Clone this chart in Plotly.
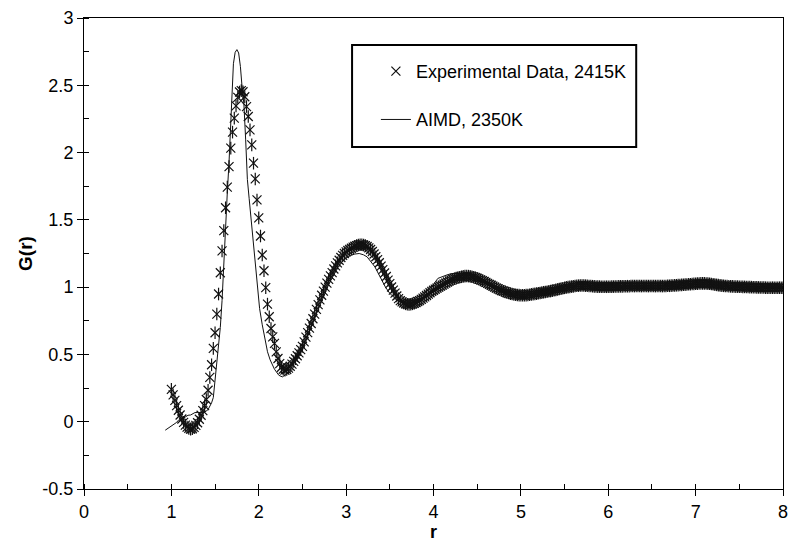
import numpy as np
import plotly.graph_objects as go

# Experimental G(r), sampled on a uniform r grid (step 0.02, from 1.00 to 8.00)
R_START = 1.00
R_STEP = 0.02
exp_g = [
    0.240, 0.200, 0.158, 0.120, 0.085, 0.050, 0.020, -0.005, -0.025, -0.040,
    -0.050, -0.055, -0.052, -0.042, -0.027, -0.008, 0.018, 0.048, 0.082, 0.120,
    0.165, 0.234, 0.329, 0.423, 0.545, 0.661, 0.800, 0.949, 1.107, 1.269,
    1.420, 1.590, 1.743, 1.896, 2.033, 2.152, 2.256, 2.347, 2.410, 2.450,
    2.460, 2.452, 2.415, 2.342, 2.268, 2.169, 2.057, 1.921, 1.804, 1.648,
    1.515, 1.380, 1.239, 1.122, 0.996, 0.874, 0.780, 0.693, 0.631, 0.582,
    0.519, 0.470, 0.432, 0.405, 0.390, 0.383, 0.388, 0.398, 0.412, 0.428,
    0.448, 0.468, 0.490, 0.512, 0.536, 0.560, 0.593, 0.628, 0.662, 0.695,
    0.730, 0.765, 0.800, 0.835, 0.870, 0.905, 0.940, 0.970, 1.000, 1.030,
    1.058, 1.084, 1.108, 1.135, 1.158, 1.180, 1.200, 1.220, 1.236, 1.250,
    1.262, 1.272, 1.281, 1.289, 1.297, 1.304, 1.309, 1.313, 1.315, 1.315,
    1.313, 1.309, 1.302, 1.292, 1.280, 1.265, 1.246, 1.226, 1.205, 1.181,
    1.156, 1.130, 1.105, 1.079, 1.052, 1.026, 1.001, 0.978, 0.955, 0.934,
    0.915, 0.900, 0.890, 0.882, 0.876, 0.873, 0.872, 0.873, 0.876, 0.880,
    0.886, 0.893, 0.900, 0.909, 0.918, 0.928, 0.938, 0.948, 0.958, 0.968,
    0.977, 0.985, 0.993, 1.000, 1.008, 1.015, 1.022, 1.030, 1.038, 1.046,
    1.052, 1.058, 1.063, 1.067, 1.071, 1.074, 1.077, 1.080, 1.082, 1.083,
    1.082, 1.080, 1.077, 1.074, 1.070, 1.065, 1.060, 1.054, 1.048, 1.042,
    1.035, 1.028, 1.021, 1.014, 1.007, 1.000, 0.993, 0.987, 0.981, 0.975,
    0.970, 0.965, 0.960, 0.956, 0.952, 0.949, 0.946, 0.944, 0.942, 0.941,
    0.940, 0.940, 0.940, 0.941, 0.942, 0.944, 0.946, 0.948, 0.950, 0.952,
    0.955, 0.957, 0.959, 0.962, 0.964, 0.966, 0.969, 0.971, 0.974, 0.977,
    0.980, 0.983, 0.986, 0.989, 0.992, 0.995, 0.998, 1.000, 1.002, 1.004,
    1.006, 1.008, 1.010, 1.011, 1.012, 1.012, 1.012, 1.011, 1.010, 1.009,
    1.008, 1.007, 1.006, 1.005, 1.004, 1.004, 1.003, 1.003, 1.003, 1.003,
    1.003, 1.003, 1.004, 1.004, 1.005, 1.005, 1.006, 1.006, 1.006, 1.007,
    1.007, 1.007, 1.007, 1.008, 1.008, 1.008, 1.008, 1.008, 1.008, 1.008,
    1.008, 1.008, 1.008, 1.008, 1.008, 1.008, 1.008, 1.008, 1.008, 1.008,
    1.008, 1.008, 1.009, 1.009, 1.010, 1.010, 1.011, 1.012, 1.013, 1.014,
    1.015, 1.016, 1.017, 1.018, 1.019, 1.020, 1.021, 1.022, 1.023, 1.024,
    1.025, 1.026, 1.027, 1.028, 1.028, 1.028, 1.027, 1.026, 1.025, 1.023,
    1.021, 1.019, 1.017, 1.015, 1.013, 1.011, 1.010, 1.009, 1.008, 1.007,
    1.006, 1.006, 1.005, 1.004, 1.004, 1.003, 1.003, 1.002, 1.002, 1.001,
    1.001, 1.000, 1.000, 0.999, 0.999, 0.998, 0.998, 0.997, 0.997, 0.997,
    0.996, 0.996, 0.996, 0.996, 0.996, 0.996, 0.996, 0.996, 0.996, 0.996,
    0.996,
]
exp_r = np.round(R_START + R_STEP * np.arange(len(exp_g)), 2)

# AIMD simulation G(r)
aimd_r = [
    0.93, 0.97, 1.00, 1.03, 1.06, 1.08, 1.12, 1.16, 1.19, 1.22,
    1.25, 1.27, 1.30, 1.34, 1.38, 1.42, 1.44, 1.46, 1.48, 1.50,
    1.52, 1.54, 1.56, 1.58, 1.60, 1.62, 1.64, 1.66, 1.68, 1.70,
    1.71, 1.73, 1.75, 1.77, 1.79, 1.81, 1.83, 1.85, 1.87, 1.89,
    1.91, 1.93, 1.95, 1.97, 1.99, 2.01, 2.04, 2.07, 2.10, 2.13,
    2.18, 2.23, 2.27, 2.31, 2.35, 2.40, 2.45, 2.50, 2.55, 2.60,
    2.65, 2.70, 2.75, 2.80, 2.85, 2.90, 2.95, 3.00, 3.05, 3.10,
    3.15, 3.20, 3.24, 3.28, 3.33, 3.37, 3.41, 3.45, 3.50, 3.55,
    3.58, 3.62, 3.66, 3.70, 3.75, 3.80, 3.85, 3.90, 3.95, 4.00,
    4.05, 4.10, 4.15, 4.20, 4.30, 4.38, 4.42, 4.50, 4.60, 4.70,
    4.80, 4.90, 5.00, 5.10, 5.20, 5.30, 5.40, 5.50, 5.60, 5.80,
    6.00, 6.20, 6.40, 6.60, 6.80, 7.00, 7.10, 7.30, 7.50, 7.70,
    8.00,
]
aimd_g = [
    -0.063, -0.046, -0.035, -0.019, -0.005, 0.011, 0.020, 0.035, 0.048, 0.050,
    0.065, 0.068, 0.068, 0.068, 0.070, 0.090, 0.110, 0.140, 0.180, 0.300,
    0.450, 0.580, 0.700, 0.900, 1.200, 1.520, 1.700, 1.930, 2.200, 2.550,
    2.660, 2.745, 2.765, 2.740, 2.640, 2.480, 2.360, 2.100, 1.800, 1.660,
    1.520, 1.400, 1.290, 1.140, 0.980, 0.840, 0.720, 0.610, 0.520, 0.460,
    0.390, 0.345, 0.333, 0.350, 0.378, 0.430, 0.480, 0.550, 0.630, 0.710,
    0.790, 0.870, 0.950, 1.020, 1.080, 1.140, 1.185, 1.215, 1.235, 1.246,
    1.250, 1.240, 1.225, 1.190, 1.150, 1.100, 1.053, 1.000, 0.954, 0.920,
    0.904, 0.890, 0.878, 0.876, 0.882, 0.900, 0.925, 0.955, 0.990, 1.020,
    1.065, 1.080, 1.090, 1.100, 1.103, 1.103, 1.090, 1.065, 1.035, 1.000,
    0.970, 0.950, 0.940, 0.945, 0.955, 0.965, 0.978, 0.990, 1.005, 1.008,
    1.004, 1.006, 1.008, 1.008, 1.012, 1.024, 1.026, 1.010, 1.004, 0.998,
    0.996,
]

# Axis ticks
x_ticks = [0, 1, 2, 3, 4, 5, 6, 7, 8]
x_labels = ["0", "1", "2", "3", "4", "5", "6", "7", "8"]
y_ticks = [-0.5, 0, 0.5, 1, 1.5, 2, 2.5, 3]
y_labels = ["-0.5", "0", "0.5", "1", "1.5", "2", "2.5", "3"]

FONT = "Liberation Sans, Arial, sans-serif"
INK = "#111111"

fig = go.Figure()

# Star marker = diagonal cross + vertical bar
fig.add_trace(go.Scatter(
    x=exp_r, y=exp_g, mode="markers", name="Experimental Data, 2415K",
    legendgroup="exp",
    marker=dict(symbol="x-thin-open", size=9, color=INK,
                line=dict(width=1.2, color=INK)),
))
fig.add_trace(go.Scatter(
    x=exp_r, y=exp_g, mode="markers", showlegend=False, legendgroup="exp",
    hoverinfo="skip",
    marker=dict(symbol="line-ns-open", size=9, color=INK,
                line=dict(width=1.2, color=INK)),
))
fig.add_trace(go.Scatter(
    x=aimd_r, y=aimd_g, mode="lines", name="AIMD, 2350K",
    legendgroup="aimd",
    line=dict(color=INK, width=1),
))

axis_common = dict(
    showline=True, linecolor="black", linewidth=1, mirror=True,
    showgrid=False, zeroline=False,
    ticks="outside", ticklen=6, tickwidth=1, tickcolor="black",
    tickfont=dict(family=FONT, size=18, color="black"),
)

fig.update_layout(
    width=795, height=547,
    margin=dict(l=84, r=7, t=18, b=58),
    paper_bgcolor="white", plot_bgcolor="white",
    font=dict(family=FONT, size=18, color="black"),
    xaxis=dict(
        range=[0, 8], tickvals=x_ticks, ticktext=x_labels,
        minor=dict(dtick=0.5, ticks="inside", ticklen=5, tickcolor="black"),
        title=dict(text="<b>r</b>", font=dict(family=FONT, size=18), standoff=2),
        **axis_common,
    ),
    yaxis=dict(
        range=[-0.5, 3], tickvals=y_ticks, ticktext=y_labels,
        minor=dict(dtick=0.25, ticks="inside", ticklen=5, tickcolor="black"),
        title=dict(text="<b>G(r)</b>", font=dict(family=FONT, size=19), standoff=4),
        **axis_common,
    ),
    # legend entries sit inside a framed box drawn as a shape
    legend=dict(
        x=0.4176, y=0.926, xanchor="left", yanchor="top",
        bgcolor="rgba(0,0,0,0)", borderwidth=0,
        font=dict(family=FONT, size=18, color="black"),
        tracegroupgap=22,
    ),
    shapes=[dict(
        type="rect", xref="paper", yref="paper",
        x0=0.3835, x1=0.790, y0=0.7261, y1=0.9427,
        line=dict(color="black", width=2), fillcolor="white", layer="below",
    )],
    showlegend=True,
)

fig.write_html("out.html")
